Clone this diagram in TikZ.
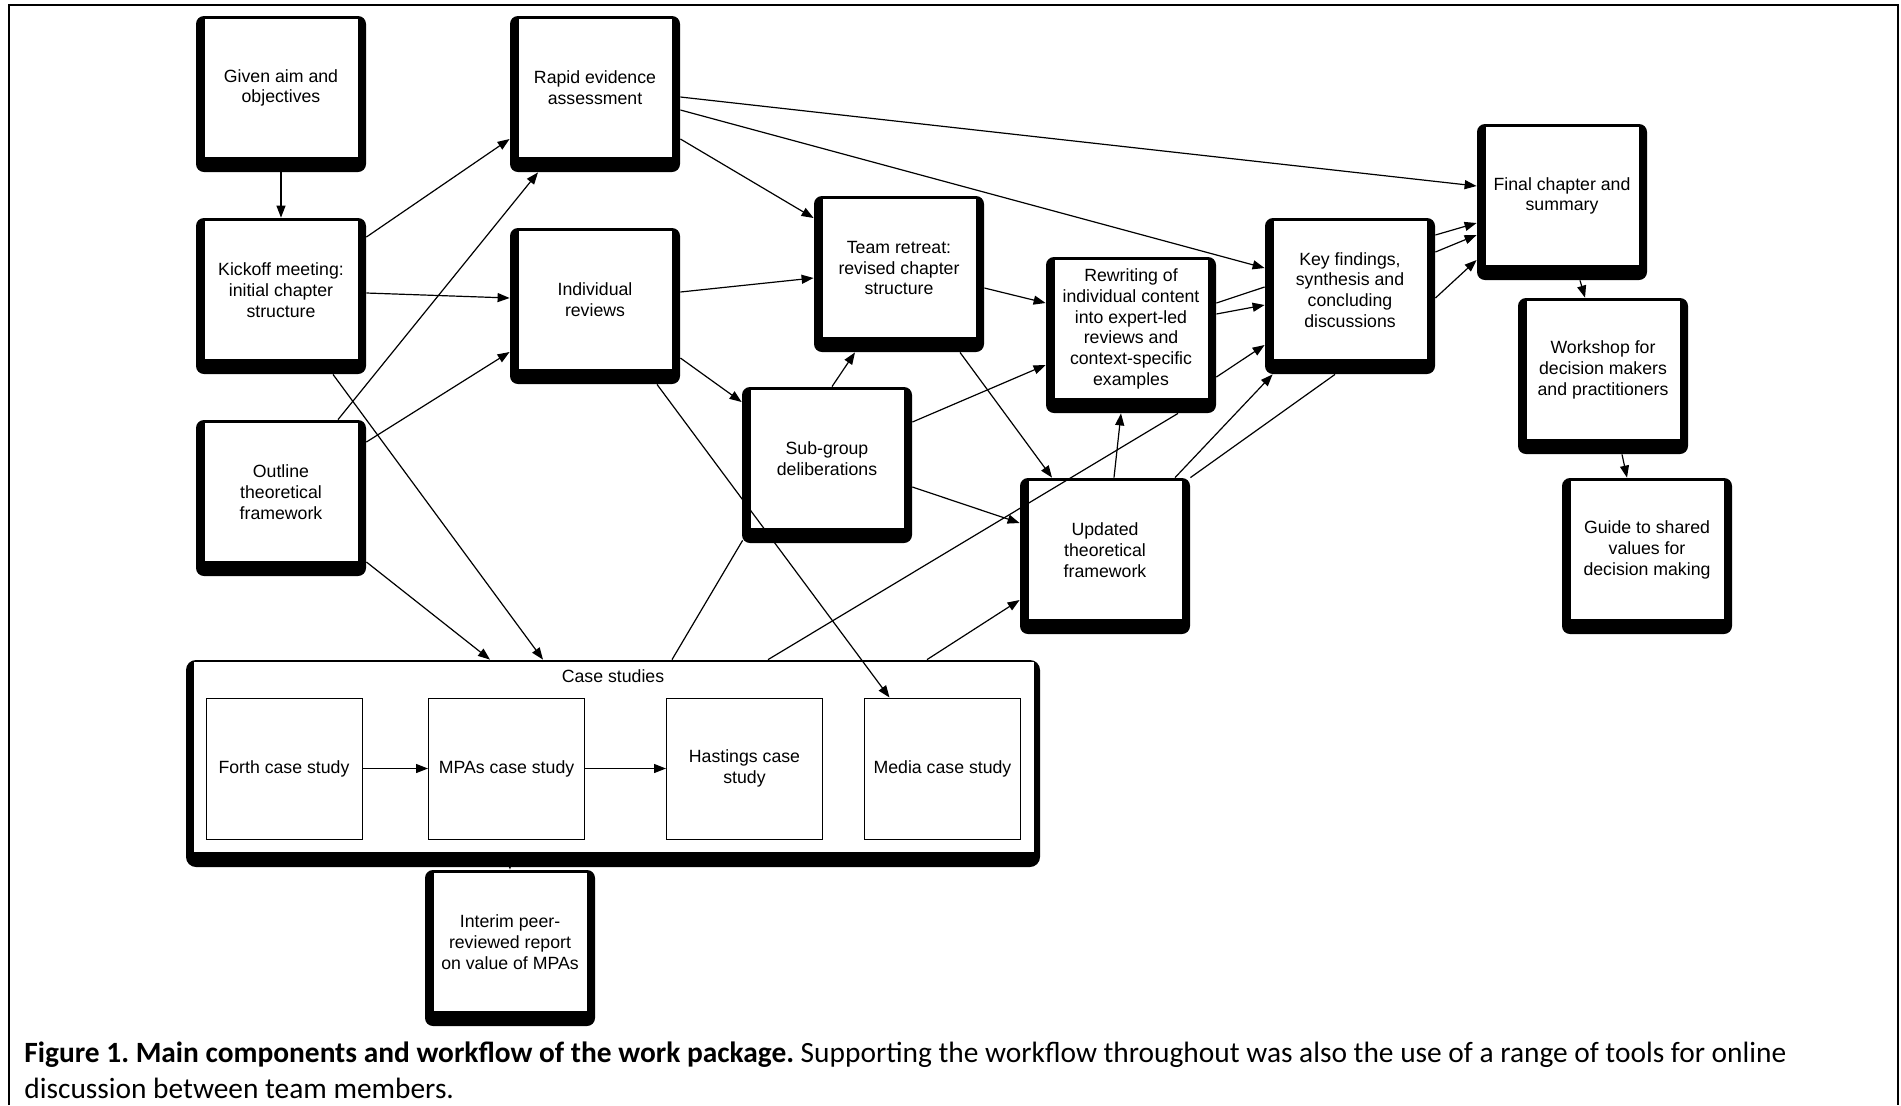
\documentclass[tikz,border=0pt]{standalone}
\usepackage{fontspec}
\setmainfont{Liberation Sans}
\newfontfamily\captionfont{Carlito}
\usetikzlibrary{arrows.meta}
\frenchspacing

\begin{document}
\begin{tikzpicture}[x=0.5pt,y=-0.5pt,
	stagetext/.style={align=center, inner sep=0pt, font=\fontsize{8.85pt}{10.35pt}\selectfont},
	stage/.style={fill=black, rounded corners=4pt, minimum width=85pt, minimum height=78pt, inner sep=0pt,
		path picture={\fill[white, sharp corners] ([shift={(9,-15)}]path picture bounding box.south west) rectangle ([shift={(-8,3)}]path picture bounding box.north east);},
		label={[stagetext, yshift=3pt]center:{#1}}},
	casegroup/.style={fill=black, rounded corners=5pt, minimum width=427pt, minimum height=103.5pt, inner sep=0pt,
		path picture={\fill[white, sharp corners] ([shift={(8,-15)}]path picture bounding box.south west) rectangle ([shift={(-6,2)}]path picture bounding box.north east);},
		label={[stagetext, anchor=north, yshift=-5pt]north:{#1}}},
	casebox/.style={stagetext, draw, line width=0.5pt, fill=white, minimum width=78pt, minimum height=70.5pt},
	flow/.style={line width=0.6pt, -{Triangle[length=6pt,width=4.5pt]}},
	link/.style={line width=0.6pt}]
	\useasboundingbox (0,0) rectangle (1901,1105);
	\draw [line width=1pt] (9,1105) -- (9,5) -- (1898,5) -- (1898,1105);
	\node [stage={Given aim and\\objectives}] (aim) at (281,94) {};
	\node [stage={Rapid evidence\\assessment}] (rapid) at (595,94) {};
	\node [stage={Kickoff meeting:\\initial chapter\\structure}] (kickoff) at (281,296) {};
	\node [stage={Individual\\reviews}] (indiv) at (595,306) {};
	\node [stage={Outline\\theoretical\\framework}] (outline) at (281,498) {};
	\node [stage={Team retreat:\\revised chapter\\structure}] (team) at (899,274) {};
	\node [stage={Sub-group\\deliberations}] (subgroup) at (827,465) {};
	\node [stage={Rewriting of\\individual content\\into expert-led\\reviews and\\context-specific\\examples}] (rewriting) at (1131,335) {};
	\node [stage={Updated\\theoretical\\framework}] (updated) at (1105,556) {};
	\node [stage={Key findings,\\synthesis and\\concluding\\discussions}] (key) at (1350,296) {};
	\node [stage={Final chapter and\\summary}] (final) at (1562,202) {};
	\node [stage={Workshop for\\decision makers\\and practitioners}] (workshop) at (1603,376) {};
	\node [stage={Guide to shared\\values for\\decision making}] (guide) at (1647,556) {};
	\node [stage={Interim peer-\\reviewed report\\on value of MPAs}] (interim) at (510,948) {};
	\node [casegroup={Case studies}] (cases) at (613,763.5) {};
	\node [casebox] (forth) at (284,768.5) {Forth case study};
	\node [casebox] (mpas) at (506.5,768.5) {MPAs case study};
	\node [casebox] (hastings) at (744.5,768.5) {Hastings case\\study};
	\node [casebox] (media) at (942.5,768.5) {Media case study};
	\draw [flow] (aim.south) -- (kickoff.north);
	\draw [flow] ([shift={(0,-59)}]kickoff.east) -- ([shift={(0,45)}]rapid.west);
	\draw [flow] ([shift={(0,-3)}]kickoff.east) -- ([shift={(0,-8)}]indiv.west);
	\draw [flow] ([shift={(57,0)}]outline.north) -- ([shift={(-57,0)}]rapid.south);
	\draw [flow] ([shift={(0,-56)}]outline.east) -- ([shift={(0,46)}]indiv.west);
	\draw [flow] ([shift={(52,0)}]kickoff.south) -- ([shift={(-70,0)}]cases.north);
	\draw [flow] ([shift={(0,64)}]outline.east) -- ([shift={(-123,0)}]cases.north);
	\draw [flow] ([shift={(0,45)}]rapid.east) -- ([shift={(0,-56)}]team.west);
	\draw [flow] ([shift={(0,16)}]rapid.east) -- ([shift={(0,-28)}]key.west);
	\draw [flow] ([shift={(0,3)}]rapid.east) -- ([shift={(0,-16)}]final.west);
	\draw [flow] ([shift={(0,-14)}]indiv.east) -- ([shift={(0,4)}]team.west);
	\draw [flow] ([shift={(0,52)}]indiv.east) -- ([shift={(0,-63)}]subgroup.west);
	\draw [flow] ([shift={(62,0)}]indiv.south) -- ([shift={(-53,0)}]media.north);
	\draw [flow] ([shift={(5,0)}]subgroup.north) -- ([shift={(-44,0)}]team.south);
	\draw [flow] ([shift={(0,14)}]team.east) -- ([shift={(0,-32)}]rewriting.west);
	\draw [flow] ([shift={(61,0)}]team.south) -- ([shift={(-53,0)}]updated.north);
	\draw [flow] ([shift={(0,-43)}]subgroup.east) -- ([shift={(0,30)}]rewriting.west);
	\draw [flow] ([shift={(0,22)}]subgroup.east) -- ([shift={(0,-33)}]updated.west);
	\draw [link] ([shift={(59,0)}]cases.north) -- ([shift={(1,-3)}]subgroup.south west);
	\draw [link] ([shift={(155,0)}]cases.north) -- ([shift={(47,0)}]rewriting.south);
	\draw [flow] ([shift={(314,0)}]cases.north) -- ([shift={(0,44)}]updated.west);
	\draw [flow] ([shift={(9,0)}]updated.north) -- ([shift={(-10,0)}]rewriting.south);
	\draw [flow] ([shift={(70,0)}]updated.north) -- ([shift={(8,0)}]key.south west);
	\draw [link] (updated.north east) -- ([shift={(-15,0)}]key.south);
	\draw [link] ([shift={(0,-32)}]rewriting.east) -- ([shift={(0,-9)}]key.west);
	\draw [flow] ([shift={(0,-21)}]rewriting.east) -- ([shift={(0,9)}]key.west);
	\draw [flow] ([shift={(0,42)}]rewriting.east) -- ([shift={(0,49)}]key.west);
	\draw [flow] ([shift={(0,-61)}]key.east) -- ([shift={(0,21)}]final.west);
	\draw [flow] ([shift={(0,-44)}]key.east) -- ([shift={(0,33)}]final.west);
	\draw [flow] ([shift={(0,2)}]key.east) -- ([shift={(0,58)}]final.west);
	\draw [flow] ([shift={(18,0)}]final.south) -- ([shift={(-18,0)}]workshop.north);
	\draw [flow] ([shift={(19,0)}]workshop.south) -- ([shift={(-20,0)}]guide.north);
	\draw [flow] (forth.east) -- (mpas.west);
	\draw [flow] (mpas.east) -- (hastings.west);
	\draw [flow] ([shift={(-104,-15)}]cases.south) -- (interim.north);
	\node [anchor=north west, align=left, inner sep=0pt, font=\captionfont\fontsize{14.7pt}{18.2pt}\selectfont] (caption) at (24,1041) {\textbf{Figure 1. Main components and workflow of the work package.} Supporting the workflow throughout was also the use of a range of tools for online\\discussion between team members.};
\end{tikzpicture}
\end{document}
